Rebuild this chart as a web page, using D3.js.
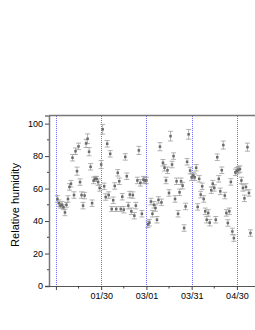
<!DOCTYPE html>
<html>
<head>
<meta charset="utf-8">
<script src="https://cdn.jsdelivr.net/npm/d3@7"></script>
<style>
  body { margin: 0; background: #fff; }
  svg { display: block; }
</style>
</head>
<body>
<svg id="chart" width="255" height="330"></svg>
<script>
// daily mean relative humidity, first value is 2019-01-01
const startDate = new Date(2019, 0, 1)
const humidity = [
  53.6, 51, 49.5, 50, 48.5, 45.3, 50, 53.6, 61, 63,
  79, 56, 83, 70.7, 86, 64, 56, 49.5, 55.7, 87.8,
  90.7, 82.7, 73.4, 51, 65, 66, 66, 64, 60.4, 74.8,
  96.5, 61.4, 54.8, 87.6, 56, 81.4, 47.4, 52.8, 61.6, 47.4,
  69.7, 64.5, 47.4, 55, 47, 79.5, 67.6, 49.5, 56.3, 46,
  56, 43.3, 49.5, 65, 83.5, 63.5, 44.5, 65.5, 65, 65,
  38, 39, 52, 44.5, 50, 48, 40.8, 53, 85.8, 51.5,
  75.9, 72.8, 65, 71.3, 57.3, 92.3, 74.8, 80, 53.6, 64.5,
  44.5, 57.7, 64.5, 61.8, 35.7, 49, 76.5, 93.4, 71.1, 67,
  68, 67, 72.8, 48.7, 66, 56.3, 61.4, 53.6, 46, 40.8,
  45, 39, 59, 63, 60.4, 40.8, 79.3, 66, 58.3, 71.3,
  86.8, 55.7, 45, 38.8, 46, 64.1, 33.6, 29.5, 70, 71,
  71.5, 72, 65, 60.4, 54, 61, 85.5, 57.3, 32.6
]
const humidityErr = [
  2, 2, 1.5, 2, 1.5, 2, 1.5, 2, 2, 2,
  2, 2, 2, 2.5, 2, 2, 2, 2, 2, 2.5,
  3, 2.5, 2, 2, 2, 1.5, 1.5, 2, 2, 2.5,
  3, 2, 2, 2, 2, 2, 1.5, 2, 2, 1.5,
  2, 2, 1.5, 2, 2, 2, 2, 2, 2, 2,
  2, 2, 2, 2, 2.5, 2, 2, 2, 2, 2,
  2, 2, 2, 2, 2, 2, 2, 2, 2.5, 2,
  2, 2, 2, 2, 2, 3, 2, 2, 2, 2,
  2, 2, 2, 2, 2, 2, 2, 3, 2, 2,
  2, 2, 2, 2, 2, 2, 2, 2, 2, 2,
  2, 2, 2, 2, 2, 2, 2, 2, 2, 2,
  2.5, 2, 2, 2, 2, 2, 2, 2, 2, 2,
  2, 2, 2, 2, 2, 2, 2.5, 2, 2
]
const yTicks = [0, 20, 40, 60, 80, 100]
const xTicks = [new Date(2018, 11, 31), new Date(2019, 0, 30), new Date(2019, 2, 1), new Date(2019, 2, 31), new Date(2019, 3, 30)]
const xTickLabels = ['', '01/30', '03/01', '03/31', '04/30']
const yLabel = 'Relative humidity'

let data = humidity.map(function(v, i) {
  return {date: d3.timeDay.offset(startDate, i), value: v, err: humidityErr[i]}
})

let svg = d3.select('#chart')
let plotLeft = 49, plotTop = 115.5, plotBottom = 286, plotRight = 258
let font = 'Liberation Sans, Arial, sans-serif'

let x = d3.scaleTime()
          .domain([new Date(2018, 11, 26, 10), new Date(2019, 4, 14)])
          .range([plotLeft, plotRight])
let y = d3.scaleLinear()
          .domain([0, 105])
          .range([plotBottom, plotTop])

// blue dotted lines at the month ticks
svg.append('g').selectAll('line')
    .data(xTicks)
    .join('line')
    .attr('x1', d => Math.round(x(d)) + 0.5)
    .attr('x2', d => Math.round(x(d)) + 0.5)
    .attr('y1', Math.ceil(plotTop))
    .attr('y2', plotBottom)
    .attr('stroke', '#6b6bff')
    .attr('stroke-width', 1)
    .attr('stroke-dasharray', '1,1')
    .attr('shape-rendering', 'crispEdges')

// error bars
let eb = svg.append('g').attr('stroke', '#a0a0a0').attr('stroke-width', 0.8)
data.forEach(function(d) {
  let cx = x(d.date)
  eb.append('line').attr('x1', cx).attr('x2', cx).attr('y1', y(d.value - d.err)).attr('y2', y(d.value + d.err))
  eb.append('line').attr('x1', cx - 2.5).attr('x2', cx + 2.5).attr('y1', y(d.value - d.err)).attr('y2', y(d.value - d.err))
  eb.append('line').attr('x1', cx - 2.5).attr('x2', cx + 2.5).attr('y1', y(d.value + d.err)).attr('y2', y(d.value + d.err))
})

// markers
svg.append('g').selectAll('rect')
    .data(data)
    .join('rect')
    .attr('x', d => x(d.date) - 1.25)
    .attr('y', d => y(d.value) - 1.25)
    .attr('width', 2.5)
    .attr('height', 2.5)
    .attr('fill', '#6a6a6a')

// frame top
svg.append('line')
    .attr('x1', plotLeft).attr('x2', 255)
    .attr('y1', plotTop).attr('y2', plotTop)
    .attr('stroke', '#777').attr('stroke-width', 1.5)

// y axis
let yAxis = svg.append('g')
    .attr('transform', `translate(${plotLeft},0)`)
    .call(d3.axisLeft(y).tickValues(yTicks).tickSize(4).tickPadding(2))
yAxis.select('.domain').attr('stroke', '#777').attr('stroke-width', 1.5)
yAxis.selectAll('.tick line').attr('stroke', '#444')
yAxis.selectAll('text')
    .attr('font-family', font)
    .attr('font-size', '9px')
    .attr('fill', '#000')
// minor y ticks
svg.append('g').selectAll('line')
    .data(d3.range(10, 101, 20))
    .join('line')
    .attr('x1', plotLeft - 2).attr('x2', plotLeft)
    .attr('y1', d => y(d)).attr('y2', d => y(d))
    .attr('stroke', '#444')

// x axis
let xAxis = svg.append('g')
    .attr('transform', `translate(0,${plotBottom})`)
    .call(d3.axisBottom(x).tickValues(xTicks).tickSize(4).tickPadding(3)
           .tickFormat((d, i) => xTickLabels[i]))
xAxis.select('.domain').attr('stroke', '#555').attr('stroke-width', 1.2)
    .attr('d', `M${plotLeft},0.5H255`)
xAxis.selectAll('.tick line').attr('stroke', '#444')
xAxis.selectAll('text')
    .attr('font-family', font)
    .attr('font-size', '9px')
    .attr('fill', '#000')
// minor x ticks, half way between the labelled ones
svg.append('g').selectAll('line')
    .data(xTicks.map(d => d3.timeDay.offset(d, 15)))
    .join('line')
    .attr('x1', d => x(d)).attr('x2', d => x(d))
    .attr('y1', plotBottom).attr('y2', plotBottom + 2.5)
    .attr('stroke', '#444')

svg.append('text')
    .attr('transform', `translate(19,205) rotate(-90)`)
    .attr('text-anchor', 'middle')
    .attr('font-family', font)
    .attr('font-size', '11px')
    .attr('fill', '#000')
    .text(yLabel)
</script>
</body>
</html>
